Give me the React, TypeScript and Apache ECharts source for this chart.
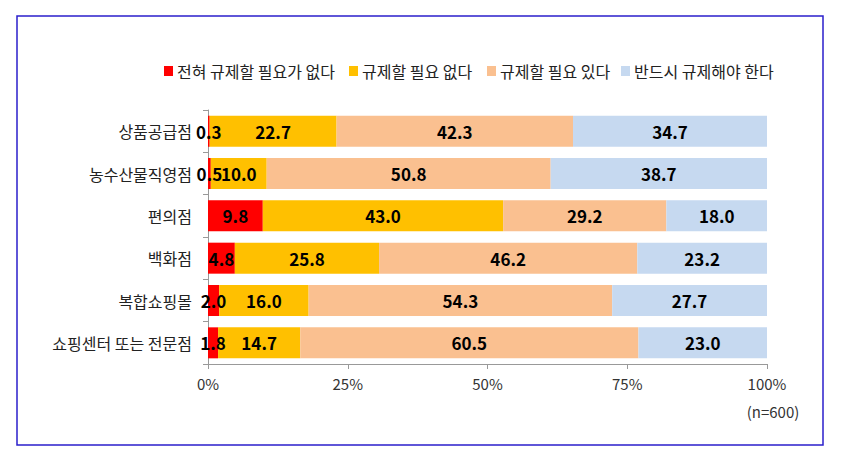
import React, { useEffect, useRef } from "react";
import * as echarts from "echarts";

const categories = ["상품공급점", "농수산물직영점", "편의점", "백화점", "복합쇼핑몰", "쇼핑센터 또는 전문점"];
const seriesNames = ["전혀 규제할 필요가 없다", "규제할 필요 없다", "규제할 필요 있다", "반드시 규제해야 한다"];
const notAtAll = [0.3, 0.5, 9.8, 4.8, 2.0, 1.8];
const notNeeded = [22.7, 10.0, 43.0, 25.8, 16.0, 14.7];
const needed = [42.3, 50.8, 29.2, 46.2, 54.3, 60.5];
const mustRegulate = [34.7, 38.7, 18.0, 23.2, 27.7, 23.0];
const colors = ["#FF0000", "#FFC000", "#FAC090", "#C6D9F0"];
const xTicks = [0, 25, 50, 75, 100];
const note = "(n=600)";

const FONT = "'Noto Sans CJK KR', 'Noto Sans', sans-serif";
const legendLefts = [164, 349, 487, 621];

export default function App() {
  const ref = useRef<HTMLDivElement>(null);
  useEffect(() => {
    if (!ref.current) return;
    const chart = echarts.init(ref.current, null, { renderer: "svg" });
    const data = [notAtAll, notNeeded, needed, mustRegulate];
    chart.setOption({
      animation: false,
      textStyle: { fontFamily: FONT },
      legend: seriesNames.map((name, i) => ({
        left: legendLefts[i],
        top: 63,
        padding: 0,
        itemWidth: 9,
        itemHeight: 10,
        itemGap: 4,
        icon: "rect",
        textStyle: { fontSize: 16, color: "#222", fontFamily: FONT, padding: [0, 0, 0, -1] },
        data: [name],
      })),
      grid: { left: 208, right: 81, top: 110, bottom: 92, containLabel: false },
      xAxis: {
        type: "value",
        min: 0,
        max: 100,
        interval: 25,
        axisLine: { show: true, lineStyle: { color: "#999", width: 1 } },
        axisTick: { show: true, length: 5, lineStyle: { color: "#999" } },
        splitLine: { show: false },
        axisLabel: {
          fontSize: 15,
          color: "#333",
          margin: 12,
          fontFamily: FONT,
          formatter: (v: number) => (xTicks.includes(v) ? v + "%" : ""),
        },
      },
      yAxis: {
        type: "category",
        inverse: true,
        data: categories,
        axisLine: { show: true, lineStyle: { color: "#999", width: 1 } },
        axisTick: { show: true, length: 5, lineStyle: { color: "#999" } },
        axisLabel: { fontSize: 16, color: "#222", margin: 16, fontFamily: FONT },
      },
      series: seriesNames.map((name, i) => ({
        name,
        type: "bar",
        stack: "total",
        data: data[i],
        barWidth: 31,
        itemStyle: { color: colors[i] },
        label: {
          show: true,
          position: "inside",
          color: "#000",
          fontSize: 17,
          fontWeight: "bold",
          fontFamily: FONT,
          formatter: (p: any) => Number(p.value).toFixed(1),
        },
      })),
      graphic: [
        {
          type: "rect",
          shape: { x: 17, y: 16, width: 806, height: 429 },
          style: { fill: "none", stroke: "#2B1FCC", lineWidth: 1.5 },
          silent: true,
        },
        {
          type: "text",
          x: 773,
          y: 411,
          style: {
            text: note,
            fontSize: 15,
            fill: "#333",
            fontFamily: FONT,
            align: "center",
            verticalAlign: "middle",
          },
        },
      ],
    });
    return () => chart.dispose();
  }, []);
  return (
    <div
      ref={ref}
      style={{ position: "fixed", left: 0, top: 0, width: 848, height: 456, background: "#fff" }}
    />
  );
}
